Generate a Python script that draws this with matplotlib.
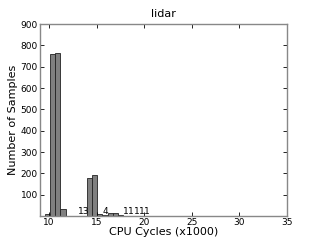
import numpy as np
import matplotlib
matplotlib.use("Agg")
import matplotlib.pyplot as plt

# histogram of cpu cycles (x1000), bins
bin_start = 9.55
bin_width = 0.55
counts = [10, 760, 765, 31, 0, 0, 0, 0, 180, 190, 10, 4, 15, 15, 3, 1, 1, 1, 1, 1]
label_bins = [7, 11, 15, 16, 17, 18, 19]
label_text = ['13', '4', '1', '1', '1', '1', '1']

lefts = bin_start + bin_width * np.arange(len(counts))

fig = plt.figure(figsize=(3.2, 2.4), dpi=100)
ax = fig.add_axes([0.125, 0.1, 0.772, 0.8])
ax.bar(lefts, counts, width=bin_width, align='edge', color='#808080',
       edgecolor='#222222', linewidth=0.6)

for b, t in zip(label_bins, label_text):
    ax.text(lefts[b] + bin_width / 2, 2, t, ha='center', va='bottom', fontsize=6.5)

ax.set_xlim(9.05, 35)
ax.set_ylim(0, 900)
ax.set_xticks([10, 15, 20, 25, 30, 35])
ax.set_yticks(range(100, 901, 100))
ax.tick_params(direction='in', labelsize=6.5, length=3, width=0.6, top=True, right=True, pad=1.5)
for s in ax.spines.values():
    s.set_color('#888888')
    s.set_linewidth(1.0)
ax.set_xlabel('CPU Cycles (x1000)', fontsize=8, labelpad=0)
ax.set_ylabel('Number of Samples', fontsize=8, labelpad=2)
ax.set_title('lidar', fontsize=8, pad=5)

fig.savefig('out.png', dpi=100)
